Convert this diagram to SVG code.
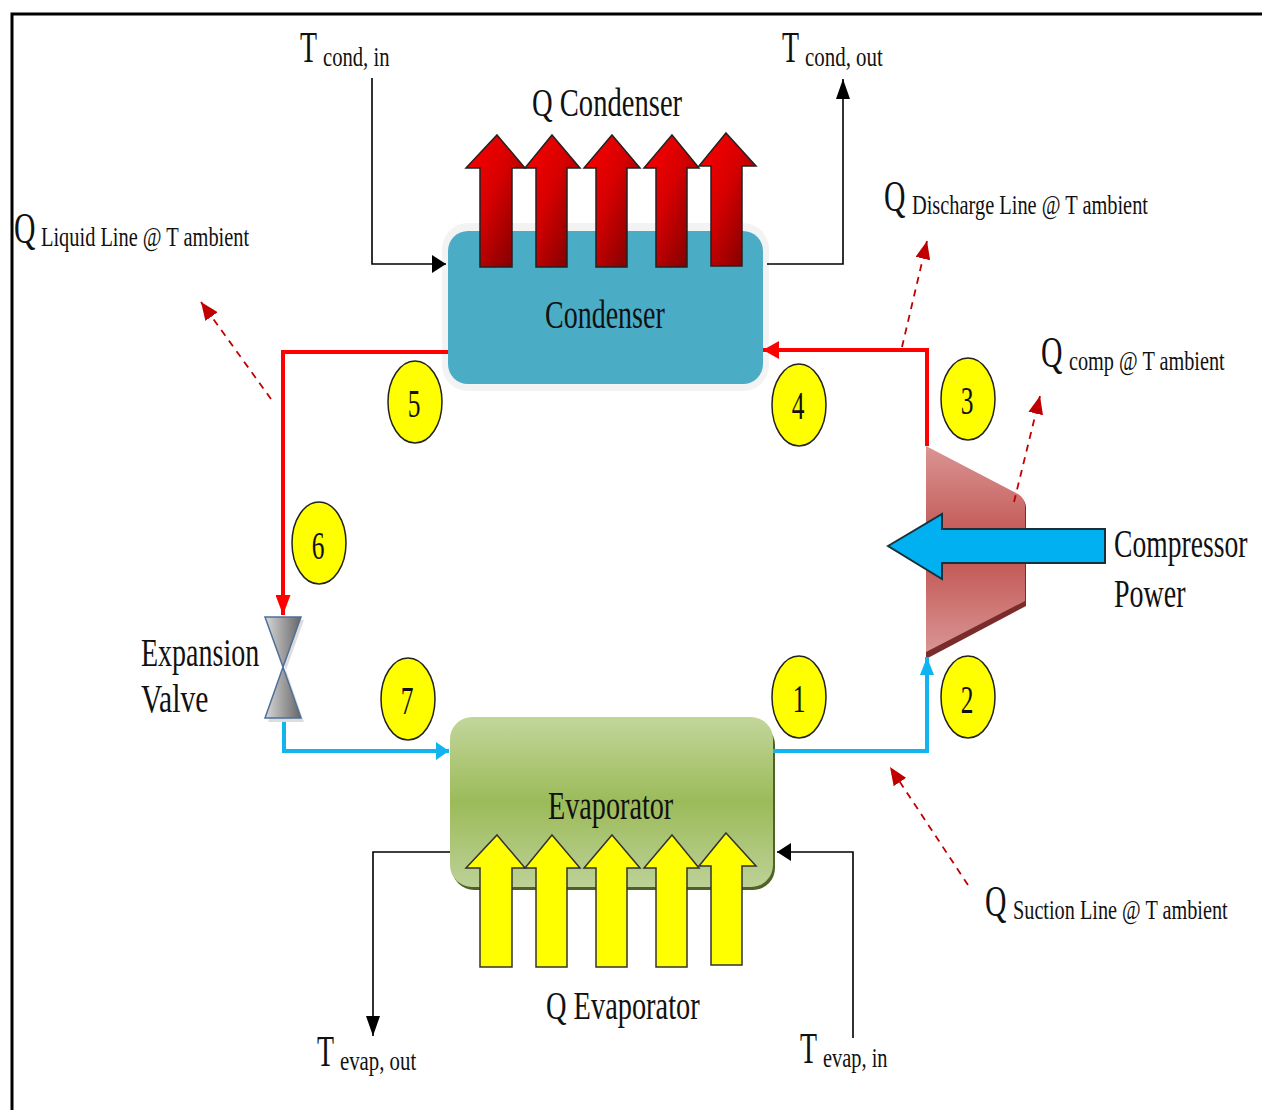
<svg xmlns="http://www.w3.org/2000/svg" width="1262" height="1110" viewBox="0 0 1262 1110">
<style>
text{font-family:"Liberation Serif","Times New Roman",serif;fill:#111}
.b{font-size:45px}.m{font-size:40px}.s{font-size:27px}.n{font-size:41px}
.c{fill:none;stroke-linejoin:miter}
.blk{stroke:#000;stroke-width:1.6}
.red{stroke:#f00;stroke-width:4}
.blu{stroke:#12b4f0;stroke-width:4}
.das{stroke:#c00000;stroke-width:1.8;stroke-dasharray:7 6}
.ra{fill:url(#gr);stroke:#222;stroke-width:1.5}
.ya{fill:#ff0;stroke:#333;stroke-width:1.5}
.num{fill:#ff0;stroke:#222;stroke-width:1.5}
</style>
<defs>
<linearGradient id="gr" x1="0" y1="0" x2="1" y2="1"><stop offset="0" stop-color="#ff0000"/><stop offset="0.45" stop-color="#d60000"/><stop offset="1" stop-color="#6e0000"/></linearGradient>
<linearGradient id="ge" x1="0" y1="0" x2="0" y2="1"><stop offset="0" stop-color="#c2d69b"/><stop offset="0.5" stop-color="#9bbb59"/><stop offset="1" stop-color="#bdd197"/></linearGradient>
<linearGradient id="gc" x1="0" y1="0" x2="0" y2="1"><stop offset="0" stop-color="#d99594"/><stop offset="0.5" stop-color="#c0504d"/><stop offset="1" stop-color="#d99594"/></linearGradient>
<linearGradient id="gv" x1="0" y1="0" x2="1" y2="0"><stop offset="0" stop-color="#d8d8d8"/><stop offset="1" stop-color="#666"/></linearGradient>
<marker id="kv" markerUnits="userSpaceOnUse" markerWidth="20" markerHeight="14" refX="20" refY="7" orient="auto"><path d="M0 0L20 7L0 14z" fill="#000"/></marker>
<marker id="kh" markerUnits="userSpaceOnUse" markerWidth="14" markerHeight="18" refX="14" refY="9" orient="auto"><path d="M0 0L14 9L0 18z" fill="#000"/></marker>
<marker id="rv" markerUnits="userSpaceOnUse" markerWidth="20" markerHeight="15" refX="20" refY="7.5" orient="auto"><path d="M0 0L20 7.5L0 15z" fill="#f00"/></marker>
<marker id="rh" markerUnits="userSpaceOnUse" markerWidth="16" markerHeight="18" refX="16" refY="9" orient="auto"><path d="M0 0L16 9L0 18z" fill="#f00"/></marker>
<marker id="bv" markerUnits="userSpaceOnUse" markerWidth="18" markerHeight="14" refX="18" refY="7" orient="auto"><path d="M0 0L18 7L0 14z" fill="#12b4f0"/></marker>
<marker id="bh" markerUnits="userSpaceOnUse" markerWidth="13" markerHeight="18" refX="13" refY="9" orient="auto"><path d="M0 0L13 9L0 18z" fill="#12b4f0"/></marker>
<marker id="md" markerUnits="userSpaceOnUse" markerWidth="18" markerHeight="15" refX="18" refY="7.5" orient="auto"><path d="M0 0L18 7.5L0 15z" fill="#c00000"/></marker>
</defs>
<rect width="1262" height="1110" fill="#fff"/>
<path d="M12 1110V14H1262" fill="none" stroke="#000" stroke-width="3"/>
<g id="condenser">
<rect x="442" y="223" width="327" height="168" rx="26" fill="#f3f3f3"/>
<rect x="448" y="231" width="315" height="153" rx="20" fill="#4bacc6"/>
<text class="m" transform="translate(545 328) scale(.7 1)">Condenser</text>
</g>
<g id="evaporator">
<rect x="452" y="723" width="323" height="167" rx="22" fill="#4f6228"/>
<rect x="450" y="717" width="323" height="170" rx="22" fill="url(#ge)"/>
<text class="m" transform="translate(548 819) scale(.705 1)">Evaporator</text>
</g>
<g id="compressor">
<path d="M926 448L1020 497Q1026 501 1026 508V606L926 659z" fill="#7a2c2a"/>
<path d="M926 446L1018 494Q1025 498 1025 506V601L926 652z" fill="url(#gc)"/>
</g>
<g id="connectors">
<path class="c red" d="M927 446V350H763" marker-end="url(#rh)"/>
<path class="c red" d="M448 352H283V615" marker-end="url(#rv)"/>
<path class="c blu" d="M284 718V751H449" marker-end="url(#bh)"/>
<path class="c blu" d="M773 751H927V657" marker-end="url(#bv)"/>
<path class="c blk" d="M372 78V264H446" marker-end="url(#kh)"/>
<path class="c blk" d="M767 264H843V79" marker-end="url(#kv)"/>
<path class="c blk" d="M450 852H373V1036" marker-end="url(#kv)"/>
<path class="c blk" d="M853 1038V852H777" marker-end="url(#kh)"/>
<path class="c das" d="M902 347L927 241" marker-end="url(#md)"/>
<path class="c das" d="M1014 502L1040 396" marker-end="url(#md)"/>
<path class="c das" d="M271 399L201 302" marker-end="url(#md)"/>
<path class="c das" d="M968 885L890 767" marker-end="url(#md)"/>
</g>
<g id="q-condenser-arrows">
<path class="ra" d="M497 135L525 168H512V267H480V168H466z"/>
<path class="ra" d="M552 135L580 168H567V267H536V168H525z"/>
<path class="ra" d="M612 135L640 168H627V267H596V168H584z"/>
<path class="ra" d="M672 135L699 168H687V267H656V168H644z"/>
<path class="ra" d="M726 133L756 166H742V266H711V166H699z"/>
</g>
<g id="q-evaporator-arrows">
<path class="ya" d="M497 835L525 868H512V967H480V868H466z"/>
<path class="ya" d="M552 835L580 868H567V967H536V868H525z"/>
<path class="ya" d="M612 835L640 868H627V967H596V868H584z"/>
<path class="ya" d="M672 835L699 868H687V967H656V868H644z"/>
<path class="ya" d="M726 833L756 866H742V965H711V866H699z"/>
</g>
<g id="power-arrow"><path d="M888 546L942 514V529H1105V563H942V579z" fill="#00b0f0" stroke="#17303a" stroke-width="2"/></g>
<g id="valve">
<path d="M268 620H304L286 670L304 722H268L286 670z" fill="#ddd"/>
<path d="M265 617H301L283 667z" fill="url(#gv)" stroke="#4f6f9a" stroke-width="1.5"/>
<path d="M265 718H301L283 667z" fill="url(#gv)" stroke="#4f6f9a" stroke-width="1.5"/>
</g>
<g id="n1"><ellipse class="num" cx="799" cy="697" rx="27" ry="41"/><text class="n" text-anchor="middle" transform="translate(799 712) scale(.62 1)">1</text></g>
<g id="n2"><ellipse class="num" cx="968" cy="697" rx="27" ry="41"/><text class="n" text-anchor="middle" transform="translate(967 713) scale(.62 1)">2</text></g>
<g id="n3"><ellipse class="num" cx="968" cy="399" rx="27" ry="41"/><text class="n" text-anchor="middle" transform="translate(967 414) scale(.62 1)">3</text></g>
<g id="n4"><ellipse class="num" cx="799" cy="405" rx="27" ry="41"/><text class="n" text-anchor="middle" transform="translate(798 419) scale(.62 1)">4</text></g>
<g id="n5"><ellipse class="num" cx="415" cy="402" rx="27" ry="41"/><text class="n" text-anchor="middle" transform="translate(414 417) scale(.62 1)">5</text></g>
<g id="n6"><ellipse class="num" cx="319" cy="543" rx="27" ry="41"/><text class="n" text-anchor="middle" transform="translate(318 559) scale(.62 1)">6</text></g>
<g id="n7"><ellipse class="num" cx="408" cy="699" rx="27" ry="41"/><text class="n" text-anchor="middle" transform="translate(407 714) scale(.62 1)">7</text></g>
<g id="labels">
<text class="m" transform="translate(532 116) scale(.715 1)">Q Condenser</text>
<text class="m" transform="translate(546 1019) scale(.71 1)">Q Evaporator</text>
<text class="m" transform="translate(1114 557) scale(.69 1)">Compressor</text>
<text class="m" transform="translate(1114 607) scale(.7 1)">Power</text>
<text class="m" transform="translate(141 666) scale(.7 1)">Expansion</text>
<text class="m" transform="translate(141 712) scale(.74 1)">Valve</text>
<text class="b" transform="translate(300 62) scale(.62 1)">T</text><text class="s" transform="translate(323 66) scale(.765 1)">cond, in</text>
<text class="b" transform="translate(782 62) scale(.62 1)">T</text><text class="s" transform="translate(805 66) scale(.775 1)">cond, out</text>
<text class="b" transform="translate(317 1066) scale(.62 1)">T</text><text class="s" transform="translate(340 1070) scale(.77 1)">evap, out</text>
<text class="b" transform="translate(800 1063) scale(.62 1)">T</text><text class="s" transform="translate(823 1067) scale(.755 1)">evap, in</text>
<text class="b" transform="translate(884 211) scale(.66 1)">Q</text><text class="s" transform="translate(912 214) scale(.755 1)">Discharge Line @ T ambient</text>
<text class="b" transform="translate(14 243) scale(.66 1)">Q</text><text class="s" transform="translate(41 246) scale(.755 1)">Liquid Line @ T ambient</text>
<text class="b" transform="translate(1041 367) scale(.66 1)">Q</text><text class="s" transform="translate(1069 370) scale(.75 1)">comp @ T ambient</text>
<text class="b" transform="translate(985 916) scale(.66 1)">Q</text><text class="s" transform="translate(1013 919) scale(.75 1)">Suction Line @ T ambient</text>
</g>
</svg>
